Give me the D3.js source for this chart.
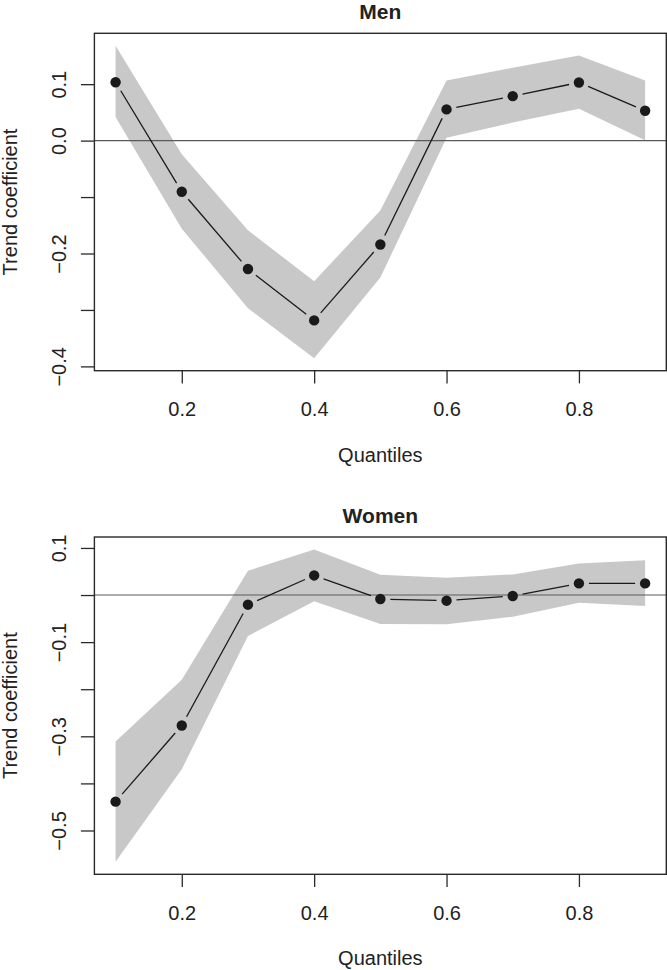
<!DOCTYPE html>
<html>
<head>
<meta charset="utf-8">
<script src="https://cdn.jsdelivr.net/npm/d3@7"></script>
<style>
  html, body { margin: 0; padding: 0; background: #fff; }
  svg { display: block; }
  text { font-family: "Liberation Sans", Arial, Helvetica, sans-serif; fill: #222; }
</style>
</head>
<body>
<svg id="chart" width="667" height="970"></svg>
<script>
// ---- data ----
const quantiles = [0.1, 0.2, 0.3, 0.4, 0.5, 0.6, 0.7, 0.8, 0.9];
const xTicks = [0.2, 0.4, 0.6, 0.8];

const menCoef  = [0.1035, -0.0905, -0.2275, -0.3185, -0.184, 0.0553, 0.0788, 0.103, 0.0529];
const menUpper = [0.168, -0.024, -0.159, -0.249, -0.124, 0.1065, 0.129, 0.1506, 0.1065];
const menLower = [0.0418, -0.156, -0.297, -0.3855, -0.2427, 0.0053, 0.032, 0.0564, 0.0007];
const menTicks = [0.1, 0.0, -0.1, -0.2, -0.3, -0.4];
const menTickLabels = ["0.1", "0.0", "", "\u22120.2", "", "\u22120.4"];

const womenCoef  = [-0.4388, -0.277, -0.0205, 0.0416, -0.0085, -0.012, -0.002, 0.0247, 0.0247];
const womenUpper = [-0.311, -0.180, 0.0515, 0.0967, 0.043, 0.0367, 0.0437, 0.067, 0.074];
const womenLower = [-0.5665, -0.370, -0.0868, -0.0134, -0.0614, -0.062, -0.0459, -0.0163, -0.0233];
const womenTicks = [0.1, 0.0, -0.1, -0.2, -0.3, -0.4, -0.5];
const womenTickLabels = ["0.1", "", "\u22120.1", "", "\u22120.3", "", "\u22120.5"];

const svg = d3.select("#chart");

function drawPanel(opts) {
  const { title, coef, upper, lower, ticks, tickLabels, top, bottom } = opts;
  const left = 94.4, right = 666.3;

  // R-style 4% extended domains
  const allY = upper.concat(lower);
  const ymin = d3.min(allY), ymax = d3.max(allY);
  const ypad = (ymax - ymin) * 0.04;
  const xmin = d3.min(quantiles), xmax = d3.max(quantiles);
  const xpad = (xmax - xmin) * 0.04;

  const x = d3.scaleLinear().domain([xmin - xpad, xmax + xpad]).range([left, right]);
  const y = d3.scaleLinear().domain([ymin - ypad, ymax + ypad]).range([bottom, top]);

  const g = svg.append("g");
  const rows = quantiles.map((q, i) => ({ q, c: coef[i], lo: lower[i], hi: upper[i] }));

  // confidence band
  g.append("path")
    .datum(rows)
    .attr("fill", "#c8c8c8")
    .attr("d", d3.area().x(d => x(d.q)).y0(d => y(d.lo)).y1(d => y(d.hi)));

  // zero reference line
  g.append("line")
    .attr("x1", left).attr("x2", right)
    .attr("y1", y(0)).attr("y2", y(0))
    .attr("stroke", "#5a5a5a").attr("stroke-width", 1.1);

  // line segments with gaps (type = "b")
  const gap = 10;
  for (let i = 0; i < rows.length - 1; i++) {
    const x0 = x(rows[i].q), y0 = y(rows[i].c);
    const x1 = x(rows[i + 1].q), y1 = y(rows[i + 1].c);
    const dx = x1 - x0, dy = y1 - y0, len = Math.hypot(dx, dy);
    if (len <= 2 * gap) continue;
    const ux = dx / len, uy = dy / len;
    g.append("line")
      .attr("x1", x0 + ux * gap).attr("y1", y0 + uy * gap)
      .attr("x2", x1 - ux * gap).attr("y2", y1 - uy * gap)
      .attr("stroke", "#1a1a1a").attr("stroke-width", 1.3);
  }

  // points
  g.selectAll("circle.pt").data(rows).enter().append("circle")
    .attr("class", "pt")
    .attr("cx", d => x(d.q)).attr("cy", d => y(d.c))
    .attr("r", 5.2).attr("fill", "#1a1a1a");

  // frame
  g.append("rect")
    .attr("x", left).attr("y", top)
    .attr("width", right - left).attr("height", bottom - top)
    .attr("fill", "none").attr("stroke", "#2a2a2a").attr("stroke-width", 1.4);

  // y axis
  const ya = g.append("g").attr("transform", `translate(${left},0)`)
    .call(d3.axisLeft(y).tickValues(ticks).tickSize(13.5)
      .tickFormat((d, i) => tickLabels[i]));
  ya.select(".domain").remove();
  ya.selectAll(".tick line").attr("stroke", "#2a2a2a").attr("stroke-width", 1.3);
  ya.selectAll(".tick text")
    .attr("x", null).attr("dy", null)
    .attr("transform", "translate(-28.5,0) rotate(-90)")
    .attr("text-anchor", "middle")
    .style("font-size", "20px").attr("fill", "#222");

  // x axis
  const xa = g.append("g").attr("transform", `translate(0,${bottom})`)
    .call(d3.axisBottom(x).tickValues(xTicks).tickSize(12.7).tickFormat(d3.format(".1f")));
  xa.select(".domain").remove();
  xa.selectAll(".tick line").attr("stroke", "#2a2a2a").attr("stroke-width", 1.3);
  xa.selectAll(".tick text")
    .attr("y", 45.3).attr("dy", null)
    .style("font-size", "20px").attr("fill", "#222");

  const cx = (left + right) / 2;
  // title
  g.append("text")
    .attr("x", cx).attr("y", top - 14)
    .attr("text-anchor", "middle")
    .style("font-size", "21px").style("font-weight", "bold")
    .text(title);

  // x label
  g.append("text")
    .attr("x", cx).attr("y", bottom + 91)
    .attr("text-anchor", "middle")
    .style("font-size", "20px")
    .text("Quantiles");

  // y label
  g.append("text")
    .attr("transform", `translate(17,${(top + bottom) / 2}) rotate(-90)`)
    .attr("text-anchor", "middle")
    .style("font-size", "20px")
    .text("Trend coefficient");
}

drawPanel({
  title: "Men", coef: menCoef, upper: menUpper, lower: menLower,
  ticks: menTicks, tickLabels: menTickLabels, top: 33.3, bottom: 370.7
});
drawPanel({
  title: "Women", coef: womenCoef, upper: womenUpper, lower: womenLower,
  ticks: womenTicks, tickLabels: womenTickLabels, top: 537, bottom: 874.3
});
</script>
</body>
</html>
